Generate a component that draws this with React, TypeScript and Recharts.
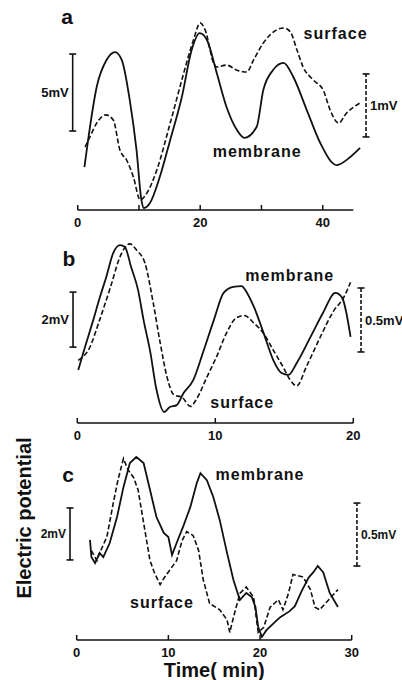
import React from 'react';
import { LineChart, Line, XAxis, YAxis, ReferenceLine, ReferenceDot } from 'recharts';

// Traces. t = time (min), v = potential (mV) above the panel's baseline.
type Pt = { t: number; v: number };

const membraneA: Pt[] = [
  { t: 1.1, v: 2.79 }, { t: 1.7, v: 4.55 }, { t: 3.1, v: 7.99 }, { t: 4.7, v: 9.74 }, { t: 6.1, v: 10.26 },
  { t: 7.2, v: 9.74 }, { t: 8.5, v: 7.14 }, { t: 9.6, v: 3.9 }, { t: 10.4, v: 0.65 }, { t: 10.8, v: 0.13 },
  { t: 11.8, v: 0.45 }, { t: 13.4, v: 2.14 }, { t: 15.1, v: 4.55 }, { t: 17, v: 7.34 }, { t: 18.6, v: 10.39 },
  { t: 19.9, v: 11.49 }, { t: 21.1, v: 11.04 }, { t: 22.7, v: 8.9 }, { t: 24.3, v: 6.69 }, { t: 26, v: 5.19 },
  { t: 27.2, v: 4.68 }, { t: 29.2, v: 5.39 }, { t: 30.3, v: 7.79 }, { t: 31.9, v: 9.09 }, { t: 33.6, v: 9.55 },
  { t: 35.2, v: 8.64 }, { t: 37.4, v: 6.49 }, { t: 39.6, v: 4.35 }, { t: 42.3, v: 2.92 }, { t: 44.5, v: 3.44 },
  { t: 46.1, v: 4.03 },
];
const surfaceA: Pt[] = [
  { t: 1.2, v: 1.0 }, { t: 2, v: 1.16 }, { t: 3.1, v: 1.38 }, { t: 4.6, v: 1.51 }, { t: 5.8, v: 1.43 },
  { t: 6.9, v: 0.95 }, { t: 8, v: 0.79 }, { t: 9.1, v: 0.52 }, { t: 10.2, v: 0.16 }, { t: 11.3, v: 0.27 },
  { t: 12.9, v: 0.63 }, { t: 15.1, v: 1.38 }, { t: 17.3, v: 2.17 }, { t: 18.9, v: 2.7 }, { t: 20, v: 2.97 },
  { t: 20.8, v: 2.86 }, { t: 22.2, v: 2.33 }, { t: 22.7, v: 2.27 }, { t: 24.3, v: 2.3 }, { t: 26, v: 2.22 },
  { t: 27.6, v: 2.19 }, { t: 28.7, v: 2.38 }, { t: 30.3, v: 2.65 }, { t: 32.5, v: 2.86 }, { t: 33.6, v: 2.89 },
  { t: 34.7, v: 2.83 }, { t: 35.8, v: 2.54 }, { t: 36.8, v: 2.27 }, { t: 38.5, v: 2.06 }, { t: 40.1, v: 1.9 },
  { t: 41.2, v: 1.59 }, { t: 42.6, v: 1.38 }, { t: 43.9, v: 1.54 }, { t: 45, v: 1.63 }, { t: 46.1, v: 1.7 },
];

const membraneB: Pt[] = [
  { t: 0.07, v: 1.93 }, { t: 0.56, v: 2.76 }, { t: 1.16, v: 3.75 }, { t: 1.64, v: 4.58 }, { t: 2.1, v: 5.31 },
  { t: 2.6, v: 6.18 }, { t: 3.1, v: 6.47 }, { t: 3.45, v: 6.4 }, { t: 3.9, v: 5.67 }, { t: 4.4, v: 4.84 },
  { t: 4.8, v: 3.75 }, { t: 5.3, v: 2.55 }, { t: 5.7, v: 1.31 }, { t: 6.3, v: 0.4 }, { t: 6.7, v: 0.58 },
  { t: 7.2, v: 0.65 }, { t: 7.7, v: 1.09 }, { t: 8.4, v: 1.56 }, { t: 9.1, v: 2.55 }, { t: 9.9, v: 3.75 },
  { t: 10.6, v: 4.73 }, { t: 11.3, v: 4.95 }, { t: 11.9, v: 4.98 }, { t: 12.3, v: 4.73 }, { t: 12.8, v: 4.22 },
  { t: 13.5, v: 3.27 }, { t: 14.2, v: 2.29 }, { t: 14.8, v: 1.82 }, { t: 15.3, v: 1.75 }, { t: 15.9, v: 2.18 },
  { t: 16.9, v: 3.13 }, { t: 17.8, v: 4.0 }, { t: 18.7, v: 4.73 }, { t: 19.2, v: 4.55 }, { t: 19.5, v: 4.0 },
  { t: 19.8, v: 3.13 },
];
const surfaceB: Pt[] = [
  { t: 0.07, v: 0.49 }, { t: 0.9, v: 0.59 }, { t: 1.6, v: 0.8 }, { t: 2.4, v: 1.06 }, { t: 3.1, v: 1.3 },
  { t: 3.8, v: 1.4 }, { t: 4.3, v: 1.35 }, { t: 4.9, v: 1.25 }, { t: 5.5, v: 0.94 }, { t: 6, v: 0.63 },
  { t: 6.5, v: 0.36 }, { t: 7, v: 0.22 }, { t: 7.6, v: 0.2 }, { t: 8.2, v: 0.13 }, { t: 8.6, v: 0.18 },
  { t: 9.4, v: 0.36 }, { t: 10.1, v: 0.52 }, { t: 10.8, v: 0.7 }, { t: 11.5, v: 0.82 }, { t: 12.1, v: 0.84 },
  { t: 12.8, v: 0.78 }, { t: 13.5, v: 0.7 }, { t: 14.2, v: 0.57 }, { t: 14.9, v: 0.44 }, { t: 15.4, v: 0.34 },
  { t: 15.9, v: 0.29 }, { t: 16.6, v: 0.44 }, { t: 17.6, v: 0.67 }, { t: 18.6, v: 0.88 }, { t: 19.3, v: 0.98 },
  { t: 19.8, v: 1.1 },
];

const membraneC: Pt[] = [
  { t: 1.45, v: 3.85 }, { t: 1.6, v: 3.19 }, { t: 2, v: 2.96 }, { t: 2.5, v: 3.35 }, { t: 2.9, v: 3.19 },
  { t: 3.6, v: 3.73 }, { t: 4.4, v: 4.73 }, { t: 5.1, v: 5.88 }, { t: 5.8, v: 6.81 }, { t: 6.5, v: 7.04 },
  { t: 7.3, v: 6.81 }, { t: 8, v: 5.77 }, { t: 8.7, v: 4.73 }, { t: 9.5, v: 4.12 }, { t: 10, v: 3.96 },
  { t: 10.4, v: 3.27 }, { t: 10.9, v: 3.73 }, { t: 11.6, v: 4.35 }, { t: 12.4, v: 5.12 }, { t: 13.1, v: 6.04 },
  { t: 13.5, v: 6.42 }, { t: 14.2, v: 6.15 }, { t: 14.9, v: 5.5 }, { t: 15.6, v: 4.62 }, { t: 16.4, v: 3.35 },
  { t: 17.1, v: 2.31 }, { t: 17.8, v: 1.54 }, { t: 18.5, v: 1.81 }, { t: 19.1, v: 1.65 }, { t: 19.5, v: 1.27 },
  { t: 19.8, v: 0.5 }, { t: 20.2, v: 0.12 }, { t: 20.7, v: 0.38 }, { t: 21.5, v: 0.65 }, { t: 22.2, v: 0.88 },
  { t: 23.2, v: 1.1 }, { t: 23.8, v: 1.3 }, { t: 24.5, v: 1.85 }, { t: 25.3, v: 2.4 }, { t: 25.8, v: 2.6 },
  { t: 26.3, v: 2.85 }, { t: 26.9, v: 2.6 }, { t: 27.6, v: 1.81 }, { t: 28.5, v: 1.27 },
];
const surfaceC: Pt[] = [
  { t: 1.6, v: 0.71 }, { t: 2.2, v: 0.63 }, { t: 2.5, v: 0.69 }, { t: 3.3, v: 0.82 }, { t: 4, v: 1.09 },
  { t: 4.5, v: 1.27 }, { t: 5.1, v: 1.44 }, { t: 5.6, v: 1.35 }, { t: 6.2, v: 1.29 }, { t: 6.7, v: 1.19 },
  { t: 7.3, v: 0.93 }, { t: 8, v: 0.63 }, { t: 8.5, v: 0.53 }, { t: 9.1, v: 0.44 }, { t: 9.6, v: 0.5 },
  { t: 10.2, v: 0.56 }, { t: 10.9, v: 0.63 }, { t: 11.5, v: 0.79 }, { t: 12, v: 0.86 }, { t: 12.7, v: 0.83 },
  { t: 13.3, v: 0.71 }, { t: 13.8, v: 0.48 }, { t: 14.5, v: 0.29 }, { t: 15.6, v: 0.24 }, { t: 16.4, v: 0.16 },
  { t: 16.7, v: 0.06 }, { t: 17.1, v: 0.18 }, { t: 17.8, v: 0.37 }, { t: 18.5, v: 0.42 }, { t: 19.3, v: 0.34 },
  { t: 19.8, v: 0.06 }, { t: 20.4, v: 0.1 }, { t: 21.1, v: 0.26 }, { t: 22, v: 0.32 }, { t: 22.5, v: 0.24 },
  { t: 23.1, v: 0.37 }, { t: 23.6, v: 0.52 }, { t: 24.7, v: 0.5 }, { t: 25.5, v: 0.4 }, { t: 26, v: 0.26 },
  { t: 26.5, v: 0.24 }, { t: 27.5, v: 0.32 }, { t: 28.5, v: 0.4 },
];

const ticksA = [0, 10, 20, 30, 40];
const tickLabelsA = [0, 20, 40];
const ticksB = [0, 10, 20];
const ticksC = [0, 10, 20, 30];

const INK = '#111';
const FONT = '"Liberation Sans", Arial, Helvetica, sans-serif';
const DASH = '5 2.5';

// vertical scale bar with end caps (shape for a segment ReferenceLine)
const ScaleBar = (p: any) => {
  const { x1, y1, x2, y2, strokeDasharray } = p;
  return (
    <g>
      <line x1={x1} y1={y1} x2={x2} y2={y2} stroke={INK} strokeWidth={1.6} strokeDasharray={strokeDasharray} />
      <line x1={x1 - 3.5} y1={y1} x2={x1 + 3.5} y2={y1} stroke={INK} strokeWidth={1.6} />
      <line x1={x2 - 3.5} y1={y2} x2={x2 + 3.5} y2={y2} stroke={INK} strokeWidth={1.6} />
    </g>
  );
};

// tick mark pointing up from the baseline, number below only for some ticks
const AxisTick = ({ x, y, payload, labeled }: any) => (
  <g>
    <line x1={x} y1={y} x2={x} y2={y - 5} stroke={INK} strokeWidth={1.5} />
    {labeled.includes(payload.value) && (
      <text x={x} y={y + 17} textAnchor="middle" fontSize={13} fontWeight="bold" fill={INK} fontFamily={FONT}>
        {payload.value}
      </text>
    )}
  </g>
);

const word = (text: string, size: number, spacing = 0) => ({ viewBox }: any) => (
  <text
    x={viewBox.x + viewBox.width / 2}
    y={viewBox.y + viewBox.height / 2}
    textAnchor="middle"
    dominantBaseline="central"
    fontSize={size}
    fontWeight="bold"
    letterSpacing={spacing}
    fill={INK}
    fontFamily={FONT}
  >
    {text}
  </text>
);

const panels = [
  {
    letter: 'a', top: 0, height: 235, axisH: 25,
    margin: { top: 10, right: 41.3, bottom: 0, left: 77.7 },
    xMax: 46.2, axisEnd: 45, ticks: ticksA, labeled: tickLabelsA,
    mDomain: [0, 12.99], sDomain: [0, 3.175],
    membrane: membraneA, surface: surfaceA, curve: 'monotone',
    mBar: { x: -0.82, y0: 5.13, len: 5, text: '5mV' },
    sBar: { x: 47.07, y0: 1.16, len: 1, text: '1mV' },
    barFont: 13,
    letterAt: { t: -1.75, v: 12.6 }, memAt: { t: 29.3, v: 3.77 }, surAt: { t: 42.1, v: 11.49 },
  },
  {
    letter: 'b', top: 230, height: 218, axisH: 25,
    margin: { top: 10, right: 48.7, bottom: 0, left: 77.3 },
    xMax: 20, axisEnd: 20, ticks: ticksB, labeled: ticksB,
    mDomain: [0, 6.655], sDomain: [0, 1.43],
    membrane: membraneB, surface: surfaceB, curve: 'monotone',
    mBar: { x: -0.31, y0: 2.76, len: 2, text: '2mV' },
    sBar: { x: 20.56, y0: 0.555, len: 0.5, text: '0.5mV' },
    barFont: 13,
    letterAt: { t: -0.6, v: 6.0 }, memAt: { t: 15.4, v: 5.38 }, surAt: { t: 11.95, v: 0.76 },
  },
  {
    letter: 'c', top: 440, height: 240, axisH: 40,
    margin: { top: 10, right: 50.3, bottom: 0, left: 76.7 },
    xMax: 30, axisEnd: 30, ticks: ticksC, labeled: ticksC,
    mDomain: [0, 7.31], sDomain: [0, 1.508],
    membrane: membraneC, surface: surfaceC, curve: 'linear',
    mBar: { x: -0.73, y0: 3.08, len: 2, text: '2mV' },
    sBar: { x: 30.57, y0: 0.587, len: 0.5, text: '0.5mV' },
    barFont: 12,
    letterAt: { t: -0.95, v: 6.38 }, memAt: { t: 20.0, v: 6.35 }, surAt: { t: 9.3, v: 1.46 },
    xLabel: 'Time( min)',
  },
];

function Panel({ p }: { p: any }) {
  return (
    <div style={{ position: 'absolute', left: 0, top: p.top }}>
      <LineChart width={402} height={p.height} margin={p.margin}>
        <XAxis
          dataKey="t"
          type="number"
          domain={[0, p.xMax]}
          ticks={p.ticks}
          interval={0}
          axisLine={false}
          tickLine={false}
          tickSize={0}
          tickMargin={0}
          height={p.axisH}
          tick={(props: any) => <AxisTick {...props} labeled={p.labeled} />}
          label={
            p.xLabel
              ? { value: p.xLabel, position: 'insideBottom', offset: 3, fontSize: 20, fontWeight: 'bold', fill: INK, fontFamily: FONT }
              : undefined
          }
        />
        <YAxis yAxisId="m" hide type="number" domain={p.mDomain} />
        <YAxis yAxisId="s" hide type="number" domain={p.sDomain} orientation="right" />

        {/* baseline */}
        <ReferenceLine
          yAxisId="m"
          segment={[{ x: 0, y: 0 }, { x: p.axisEnd, y: 0 }]}
          stroke={INK}
          strokeWidth={1.5}
          ifOverflow="visible"
        />

        <ReferenceLine
          yAxisId="m"
          segment={[{ x: p.mBar.x, y: p.mBar.y0 }, { x: p.mBar.x, y: p.mBar.y0 + p.mBar.len }]}
          ifOverflow="visible"
          shape={ScaleBar}
          label={{ value: p.mBar.text, position: 'left', offset: 4, fontSize: p.barFont, fontWeight: 'bold', fill: INK, fontFamily: FONT }}
        />
        <ReferenceLine
          yAxisId="s"
          segment={[{ x: p.sBar.x, y: p.sBar.y0 }, { x: p.sBar.x, y: p.sBar.y0 + p.sBar.len }]}
          ifOverflow="visible"
          strokeDasharray="4 2"
          shape={ScaleBar}
          label={{ value: p.sBar.text, position: 'right', offset: 4, fontSize: p.barFont, fontWeight: 'bold', fill: INK, fontFamily: FONT }}
        />

        <Line
          yAxisId="m"
          data={p.membrane}
          dataKey="v"
          type={p.curve}
          stroke={INK}
          strokeWidth={1.8}
          dot={false}
          isAnimationActive={false}
        />
        <Line
          yAxisId="s"
          data={p.surface}
          dataKey="v"
          type={p.curve}
          stroke={INK}
          strokeWidth={1.6}
          strokeDasharray={DASH}
          dot={false}
          isAnimationActive={false}
        />

        <ReferenceDot yAxisId="m" x={p.letterAt.t} y={p.letterAt.v} r={0} ifOverflow="visible" label={word(p.letter, 21)} />
        <ReferenceDot yAxisId="m" x={p.memAt.t} y={p.memAt.v} r={0} ifOverflow="visible" label={word('membrane', 16, 1)} />
        <ReferenceDot yAxisId="m" x={p.surAt.t} y={p.surAt.v} r={0} ifOverflow="visible" label={word('surface', 16, 1)} />
      </LineChart>
    </div>
  );
}

export default function App() {
  return (
    <div style={{ position: 'absolute', left: 0, top: 0, width: 402, height: 680, background: '#fff', fontFamily: FONT }}>
      {panels.map((p) => (
        <Panel key={p.letter} p={p} />
      ))}
      <div
        style={{
          position: 'absolute',
          left: 24,
          top: 518,
          transform: 'translate(-50%, -50%) rotate(-90deg)',
          whiteSpace: 'nowrap',
          fontSize: 20,
          fontWeight: 'bold',
          color: INK,
          fontFamily: FONT,
        }}
      >
        Electric potential
      </div>
    </div>
  );
}
